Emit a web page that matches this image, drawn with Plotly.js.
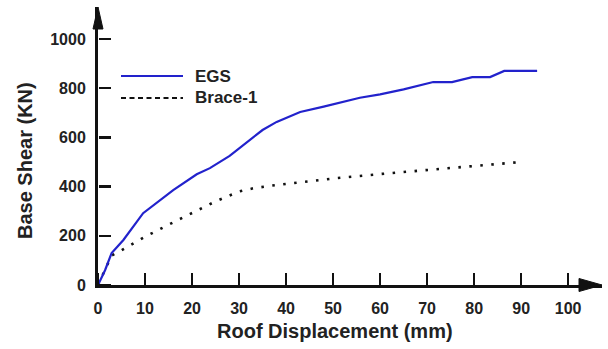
<!DOCTYPE html>
<html>
<head>
<meta charset="utf-8">
<script src="https://cdn.plot.ly/plotly-3.0.1.min.js"></script>
<style>html,body{margin:0;padding:0;background:#fff;}#chart{width:608px;height:349px;}</style>
</head>
<body>
<div id="chart"></div>
<script>
// Data
const egsX = [0, 1.5, 2.9, 5.4, 9.6, 16, 21, 23.8, 28, 31.7, 35, 38, 43, 48, 55.7, 60, 65, 71.3, 75.3, 79.6, 83.4, 86.4, 93.4];
const egsY = [0, 60, 130, 183, 292, 386, 450, 475, 525, 582, 630, 663, 703, 725, 761, 775, 795, 825, 825, 845, 845, 870, 870];
const braceX = [0, 2.9, 4, 10, 15, 20, 25, 30, 33, 37, 44, 51, 60, 67, 76, 83, 90];
const braceY = [0, 120, 130, 196, 245, 293, 340, 380, 393, 404, 419, 435, 451, 463, 477, 488, 500];
const xTicks = [0, 10, 20, 30, 40, 50, 60, 70, 80, 90, 100];
const yTicks = [0, 200, 400, 600, 800, 1000];
const seriesNames = ['EGS', 'Brace-1'];
const xTitle = 'Roof Displacement (mm)';
const yTitle = 'Base Shear (KN)';

const tickFont = {family: 'Liberation Sans, Arial, sans-serif', size: 16, color: '#222', weight: 'bold'};
const titleFont = {family: 'Liberation Sans, Arial, sans-serif', size: 20, color: '#222', weight: 'bold'};
const legFont = {family: 'Liberation Sans, Arial, sans-serif', size: 17, color: '#222', weight: 'bold'};

const traces = [
  {x: braceX, y: braceY, name: seriesNames[1], mode: 'lines', line: {color: '#111', width: 2.6, dash: '2.5px,8.5px'}},
  {x: egsX, y: egsY, name: seriesNames[0], mode: 'lines', line: {color: '#2222cc', width: 2.2}}
];

const xRange = [0, 107.2];
const yRange = [0, 1130];

const layout = {
  width: 608, height: 349,
  margin: {l: 98, r: 6, t: 7, b: 64},
  paper_bgcolor: '#fff', plot_bgcolor: 'rgba(0,0,0,0)',
  showlegend: false,
  xaxis: {
    range: xRange, tickmode: 'array', tickvals: xTicks, ticktext: xTicks.map(String),
    ticks: '', showline: true, linecolor: '#111', linewidth: 3,
    showgrid: false, zeroline: false, tickfont: tickFont, ticklabelstandoff: 7
  },
  yaxis: {
    range: yRange, tickmode: 'array', tickvals: yTicks, ticktext: yTicks.map(String),
    ticks: '', showline: true, linecolor: '#111', linewidth: 3,
    showgrid: false, zeroline: false, tickfont: tickFont, ticklabelstandoff: 6
  },
  // tick-mark axes: top-sided axis pinned to the bottom so its outside ticks point up into the plot
  xaxis2: {
    overlaying: 'x', matches: 'x', side: 'top', anchor: 'free', position: 0,
    range: xRange, tickmode: 'array', tickvals: xTicks, showticklabels: false,
    ticks: 'outside', ticklen: 12, tickwidth: 2.5, tickcolor: '#111',
    showline: false, showgrid: false, zeroline: false
  },
  yaxis2: {
    overlaying: 'y', matches: 'y', side: 'right', anchor: 'free', position: 0,
    range: yRange, tickmode: 'array', tickvals: yTicks, showticklabels: false,
    ticks: 'outside', ticklen: 12, tickwidth: 2.5, tickcolor: '#111',
    showline: false, showgrid: false, zeroline: false
  },
  shapes: [
    // x axis arrowhead
    {type: 'path', xref: 'paper', yref: 'paper', xsizemode: 'pixel', ysizemode: 'pixel', xanchor: 1, yanchor: 0,
     path: 'M -23 -6.5 L 0 0 L -23 6.5 Z', fillcolor: '#111', line: {color: '#111', width: 1}},
    // y axis arrowhead
    {type: 'path', xref: 'paper', yref: 'paper', xsizemode: 'pixel', ysizemode: 'pixel', xanchor: 0, yanchor: 1,
     path: 'M -5 -22 L 0 0 L 5 -22 Z', fillcolor: '#111', line: {color: '#111', width: 1}},
    // legend samples
    {type: 'line', xref: 'paper', yref: 'paper', xsizemode: 'pixel', ysizemode: 'pixel', xanchor: 0, yanchor: 1,
     x0: 23, x1: 85, y0: -69, y1: -69, line: {color: '#2222cc', width: 2.2}},
    {type: 'line', xref: 'paper', yref: 'paper', xsizemode: 'pixel', ysizemode: 'pixel', xanchor: 0, yanchor: 1,
     x0: 23, x1: 85, y0: -91, y1: -91, line: {color: '#111', width: 2.2, dash: '5px,3.5px'}}
  ],
  annotations: [
    {text: seriesNames[0], xref: 'paper', yref: 'paper', x: 95/504, y: 1 - 69/278, xanchor: 'left', yanchor: 'middle', showarrow: false, font: legFont},
    {text: seriesNames[1], xref: 'paper', yref: 'paper', x: 95/504, y: 1 - 91/278, xanchor: 'left', yanchor: 'middle', showarrow: false, font: legFont},
    {text: xTitle, xref: 'paper', yref: 'paper', x: (335 - 98) / 504, y: -(331 - 285) / 278, xanchor: 'center', yanchor: 'middle', showarrow: false, font: titleFont},
    {text: yTitle, xref: 'paper', yref: 'paper', x: -(98 - 25) / 504, y: (285 - 161) / 278, xanchor: 'center', yanchor: 'middle', showarrow: false, textangle: -90, font: titleFont}
  ]
};

// an invisible trace keeps the tick-mark axes drawn
traces.push({x: [], y: [], xaxis: 'x2', yaxis: 'y2', mode: 'lines', hoverinfo: 'skip', showlegend: false});

Plotly.newPlot('chart', traces, layout, {displayModeBar: false, staticPlot: true});
</script>
</body>
</html>
